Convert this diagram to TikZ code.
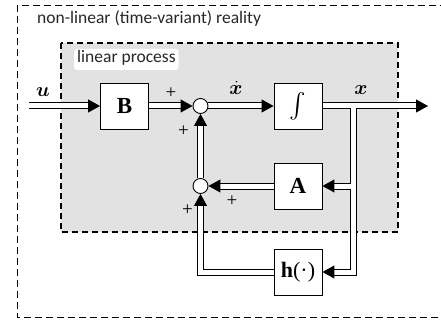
\RequirePackage{fix-cm}
\documentclass[tikz,border=0pt]{standalone}
\usepackage{amsmath}
\usepackage{bm}
\usepackage{fontspec}
\newfontfamily\tms{Liberation Serif}
\newfontfamily\hand{Carlito}
\usetikzlibrary{arrows.meta}
\pgfdeclarelayer{back}
\pgfdeclarelayer{lines}
\pgfsetlayers{back,lines,main}
\definecolor{procgray}{RGB}{226,226,226}
\newcommand\allsignals{%
  \path[sa] (uin) -- (B.west);
  \path[sa] (B.east) -- (s1.west);
  \path[sa] (s1.east) -- (I.west);
  \path[sa] (I.east) -- (out);
  \path[sa] (jn) |- (h.east);
  \path[sa] (ja) -- (A.east);
  \path[sa] (A.west) -- (s2.east);
  \path[sa] (s2.north) -- (s1.south);
  \path[sa] (h.west) -| (s2.south);
}
\begin{document}
\begin{tikzpicture}[x=1pt,y=-1pt,
  blk/.style={draw, fill=white, line width=0.9pt, minimum width=48pt, minimum height=46pt, inner sep=0pt, font=\tms\fontsize{23}{26}\selectfont\bfseries},
  sumj/.style={circle, draw, fill=white, line width=0.9pt, minimum size=15pt, inner sep=0pt},
  pls/.style={inner sep=0pt, font=\tms\fontsize{19}{20}\selectfont},
  mlab/.style={anchor=base, inner sep=0pt, font=\fontsize{20}{23}\selectfont},
  txt/.style={anchor=base west, inner sep=0pt, font=\hand\fontsize{17.5}{20}\selectfont, text=black!85},
  pass1/.style={sa/.style={draw=black, line width=7pt, shorten >=10pt}},
  pass2/.style={sa/.style={draw=white, line width=5pt, shorten >=10pt}},
  pass3/.style={sa/.style={draw=white, line width=1pt, -{Triangle[length=12pt,width=13pt,color=black,fill=black]}}}
]
\useasboundingbox (0,0) rectangle (441,323);
\begin{pgfonlayer}{back}
  \draw[line width=0.9pt, dash pattern=on 7pt off 4pt] (17,5) rectangle (442.5,317);
  \draw[line width=1.4pt, dash pattern=on 6pt off 4pt, fill=procgray] (61,43) rectangle (398,232);
\end{pgfonlayer}

\node[txt] (reality) at (37,24) {non-linear (time-variant) reality};
\node[txt, fill=white, rounded corners=3pt, inner xsep=3pt, inner ysep=3.5pt, text height=10.5pt, text depth=3.5pt] (linproc) at (74,63) {linear process};

\node[blk] (B) at (124.5,106) {B};
\node[blk] (I) at (298,106) {\fontsize{28}{30}\selectfont\mdseries$\int$};
\node[blk] (A) at (298,186) {A};
\node[blk] (h) at (298,272) {\fontsize{22}{24}\selectfont h\mdseries(\textperiodcentered)};
\node[sumj] (s1) at (200.5,106) {};
\node[sumj] (s2) at (200.5,186) {};

\coordinate (uin) at (29,106);
\coordinate (out) at (428,106);
\coordinate (jn) at (353.5,106);
\coordinate (ja) at (353.5,186);

\begin{pgfonlayer}{lines}
  \begin{scope}[pass1]\allsignals\end{scope}
  \begin{scope}[pass2]\allsignals\end{scope}
  \begin{scope}[pass3]\allsignals\end{scope}
\end{pgfonlayer}

\node[mlab] (ulab) at (43,97) {$\bm{u}$};
\node[mlab] (xdlab) at (236,95) {$\dot{\bm{x}}$};
\node[mlab] (xlab) at (361,95) {$\bm{x}$};

\node[pls] (p1) at (171,93.5) {+};
\node[pls] (p2) at (183.5,131) {+};
\node[pls] (p3) at (232,201) {+};
\node[pls] (p4) at (187.5,210.5) {+};
\end{tikzpicture}
\end{document}
